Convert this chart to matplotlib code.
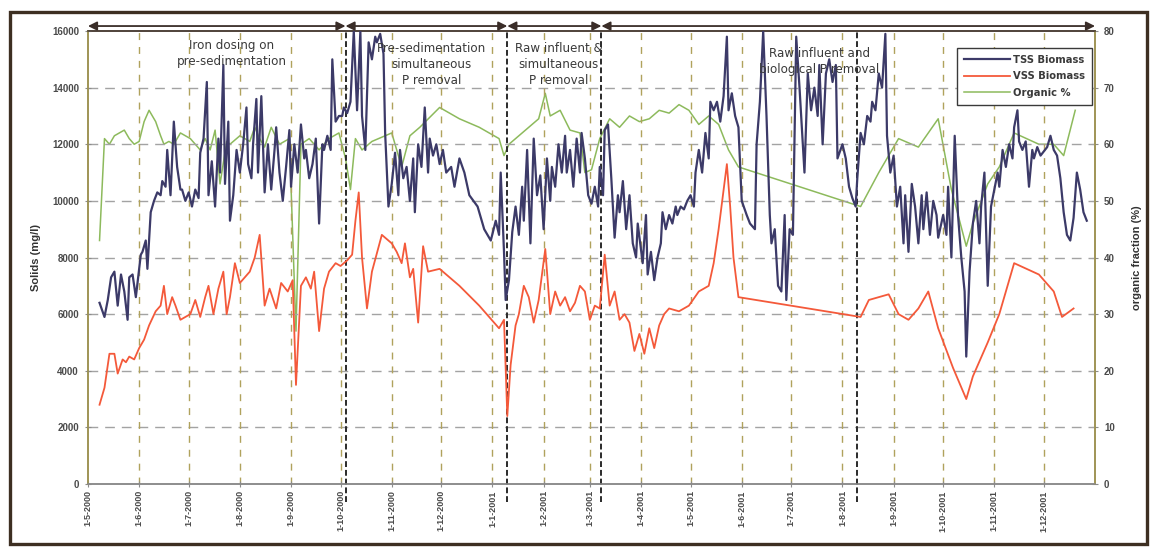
import matplotlib
matplotlib.use("Agg")
import matplotlib.pyplot as plt
import matplotlib.dates as mdates
import matplotlib.transforms as mtransforms
import pandas as pd
from matplotlib.patches import Rectangle

plt.rcParams['font.family'] = ['Liberation Sans', 'DejaVu Sans']

# ---- Total suspended solids of the biomass (mg/l) ----
tss_dates = [
    '2000-05-08', '2000-05-11', '2000-05-13', '2000-05-15', '2000-05-17', '2000-05-19', '2000-05-21', '2000-05-23', '2000-05-25', '2000-05-26', '2000-05-28', '2000-05-30',
    '2000-06-02', '2000-06-03', '2000-06-05', '2000-06-06', '2000-06-08', '2000-06-10', '2000-06-12', '2000-06-14', '2000-06-15', '2000-06-17', '2000-06-18', '2000-06-20', '2000-06-22', '2000-06-24', '2000-06-26', '2000-06-27', '2000-06-29',
    '2000-07-01', '2000-07-03', '2000-07-05', '2000-07-07', '2000-07-08', '2000-07-10', '2000-07-12', '2000-07-13', '2000-07-15', '2000-07-17', '2000-07-19', '2000-07-20', '2000-07-22', '2000-07-23', '2000-07-25', '2000-07-26', '2000-07-28', '2000-07-30',
    '2000-08-01', '2000-08-03', '2000-08-05', '2000-08-06', '2000-08-08', '2000-08-09', '2000-08-11', '2000-08-12', '2000-08-14', '2000-08-16', '2000-08-18', '2000-08-20', '2000-08-22', '2000-08-23', '2000-08-25', '2000-08-27', '2000-08-29', '2000-08-31',
    '2000-09-01', '2000-09-03', '2000-09-05', '2000-09-07', '2000-09-09', '2000-09-10', '2000-09-12', '2000-09-14', '2000-09-16', '2000-09-18', '2000-09-20', '2000-09-21', '2000-09-23', '2000-09-25', '2000-09-26', '2000-09-28', '2000-09-30',
    '2000-10-02', '2000-10-03', '2000-10-05', '2000-10-07', '2000-10-09', '2000-10-11', '2000-10-13', '2000-10-14', '2000-10-16', '2000-10-18', '2000-10-20', '2000-10-22', '2000-10-23', '2000-10-25', '2000-10-27', '2000-10-28', '2000-10-30',
    '2000-11-01', '2000-11-03', '2000-11-05', '2000-11-06', '2000-11-08', '2000-11-10', '2000-11-12', '2000-11-14', '2000-11-15', '2000-11-17', '2000-11-19', '2000-11-21', '2000-11-23', '2000-11-24', '2000-11-26', '2000-11-28', '2000-11-30',
    '2000-12-02', '2000-12-04', '2000-12-07', '2000-12-09', '2000-12-12', '2000-12-15', '2000-12-18', '2000-12-23', '2000-12-27', '2000-12-31',
    '2001-01-03', '2001-01-05', '2001-01-06', '2001-01-08', '2001-01-09', '2001-01-11', '2001-01-13', '2001-01-15', '2001-01-17', '2001-01-19', '2001-01-20', '2001-01-22', '2001-01-24', '2001-01-26', '2001-01-28', '2001-01-30',
    '2001-02-01', '2001-02-03', '2001-02-05', '2001-02-06', '2001-02-08', '2001-02-10', '2001-02-12', '2001-02-14', '2001-02-15', '2001-02-17', '2001-02-19', '2001-02-21', '2001-02-23', '2001-02-24', '2001-02-26', '2001-02-28',
    '2001-03-02', '2001-03-04', '2001-03-06', '2001-03-07', '2001-03-09', '2001-03-10', '2001-03-12', '2001-03-14', '2001-03-16', '2001-03-18', '2001-03-19', '2001-03-21', '2001-03-23', '2001-03-25', '2001-03-27', '2001-03-29', '2001-03-30',
    '2001-04-02', '2001-04-04', '2001-04-05', '2001-04-07', '2001-04-09', '2001-04-11', '2001-04-13', '2001-04-14', '2001-04-16', '2001-04-18', '2001-04-20', '2001-04-22', '2001-04-23', '2001-04-25', '2001-04-27', '2001-04-29',
    '2001-05-01', '2001-05-03', '2001-05-04', '2001-05-06', '2001-05-08', '2001-05-10', '2001-05-12', '2001-05-13', '2001-05-15', '2001-05-17', '2001-05-19', '2001-05-21', '2001-05-23', '2001-05-24', '2001-05-26', '2001-05-28', '2001-05-30',
    '2001-06-01', '2001-06-04', '2001-06-06', '2001-06-09', '2001-06-10', '2001-06-12', '2001-06-14', '2001-06-16', '2001-06-18', '2001-06-19', '2001-06-21', '2001-06-23', '2001-06-25', '2001-06-27', '2001-06-28', '2001-06-30',
    '2001-07-02', '2001-07-04', '2001-07-06', '2001-07-08', '2001-07-09', '2001-07-11', '2001-07-13', '2001-07-15', '2001-07-17', '2001-07-18', '2001-07-20', '2001-07-22', '2001-07-24', '2001-07-26', '2001-07-28', '2001-07-29',
    '2001-08-01', '2001-08-03', '2001-08-05', '2001-08-07', '2001-08-09', '2001-08-10', '2001-08-12', '2001-08-14', '2001-08-16', '2001-08-18', '2001-08-19', '2001-08-21', '2001-08-23', '2001-08-25', '2001-08-27', '2001-08-28', '2001-08-30',
    '2001-09-01', '2001-09-03', '2001-09-05', '2001-09-07', '2001-09-08', '2001-09-10', '2001-09-12', '2001-09-14', '2001-09-16', '2001-09-18', '2001-09-19', '2001-09-21', '2001-09-23', '2001-09-25', '2001-09-27', '2001-09-28',
    '2001-10-01', '2001-10-03', '2001-10-04', '2001-10-06', '2001-10-08', '2001-10-10', '2001-10-12', '2001-10-14', '2001-10-15', '2001-10-17', '2001-10-19', '2001-10-21', '2001-10-23', '2001-10-24', '2001-10-26', '2001-10-28', '2001-10-30',
    '2001-11-01', '2001-11-03', '2001-11-04', '2001-11-06', '2001-11-08', '2001-11-10', '2001-11-12', '2001-11-13', '2001-11-15', '2001-11-16', '2001-11-18', '2001-11-20', '2001-11-22', '2001-11-24', '2001-11-25', '2001-11-27', '2001-11-29',
    '2001-12-03', '2001-12-05', '2001-12-07', '2001-12-09', '2001-12-11', '2001-12-13', '2001-12-15', '2001-12-17', '2001-12-19', '2001-12-21', '2001-12-23', '2001-12-25', '2001-12-27',
]
tss_mgl = [
    6400, 5900, 6500, 7300, 7500, 6300, 7400, 6800, 5800, 7300, 7400, 6600,
    8100, 8200, 8600, 7600, 9600, 10000, 10300, 10200, 10700, 10500, 11800, 10200, 12800, 11200, 10400, 10400, 10000,
    10300, 9800, 10400, 10100, 11700, 12200, 14200, 10200, 11400, 9800, 12200, 11000, 14800, 10600, 12800, 9300, 10200, 11800,
    11000, 12000, 13300, 11300, 10800, 12000, 13600, 11000, 13700, 10300, 12000, 10400, 11800, 12600, 11000, 10000, 11200, 12500,
    10500, 12000, 11000, 12700, 11500, 11800, 10800, 11300, 12200, 9200, 12000, 11800, 12300, 11800, 15000, 12800, 13000,
    13000, 13300, 13100, 13500, 16000, 13200, 16000, 13000, 11800, 15600, 15000, 15800, 15600, 15900, 15200, 12400, 9800,
    10600, 11700, 10200, 11800, 10800, 11200, 10000, 11500, 9600, 12000, 11200, 13300, 11000, 12200, 11600, 12000, 11300,
    11800, 11000, 11200, 10500, 11500, 11000, 10200, 9800, 9000, 8600,
    9300, 8800, 11000, 8200, 6500, 7200, 8900, 9800, 8800, 10500, 9300, 11800, 8500, 12200, 10200, 10900,
    9000, 11500, 10000, 11200, 10500, 12000, 11000, 12300, 11000, 11800, 10500, 12200, 11000, 12400, 11500, 10200,
    9900, 10500, 9800, 11200, 10200, 12500, 12700, 10800, 8700, 10200, 9600, 10700, 9000, 10200, 8500, 8000, 9200,
    7800, 9500, 7400, 8200, 7200, 8000, 8500, 9600, 9000, 9500, 9200, 9800, 9500, 9800, 9700, 10000,
    10200, 9800, 11000, 11800, 11000, 12400, 11500, 13500, 13200, 13500, 12800, 13700, 15800, 13200, 13800, 13000, 12600,
    10000, 9500, 9200, 9000, 12000, 13500, 16000, 13000, 9500, 8500, 9000, 7000, 6800, 9500, 6500, 9000,
    8800, 15800, 14000, 12000, 11000, 14500, 13200, 14000, 13000, 14800, 12000, 14500, 15000, 14200, 14800, 11500,
    12000, 11500, 10500, 10100, 9800, 10800, 12400, 12000, 13000, 12800, 13500, 13200, 14500, 14000, 15900, 12300, 11000,
    11600, 9800, 10500, 8500, 10200, 8200, 10600, 9800, 8500, 10200, 9000, 10300, 8800, 10000, 9500, 8700,
    9500, 8800, 10500, 8000, 12300, 9500, 8000, 6800, 4500, 7500, 9200, 10000, 8500, 9800, 11000, 7000, 9800,
    10400, 11000, 10500, 11800, 11200, 12000, 11500, 12600, 13200, 12100, 11800, 12100, 10500, 11800, 11500, 11900, 11600,
    11900, 12300, 11800, 11600, 10800, 9600, 8800, 8600, 9400, 11000, 10400, 9600, 9300,
]

# ---- Volatile suspended solids of the biomass (mg/l) ----
vss_dates = [
    '2000-05-08', '2000-05-11', '2000-05-14', '2000-05-17', '2000-05-19', '2000-05-22', '2000-05-24', '2000-05-26', '2000-05-29',
    '2000-06-01', '2000-06-04', '2000-06-07', '2000-06-11', '2000-06-14', '2000-06-16', '2000-06-18', '2000-06-21', '2000-06-23', '2000-06-26', '2000-06-29',
    '2000-07-02', '2000-07-05', '2000-07-08', '2000-07-11', '2000-07-13', '2000-07-16', '2000-07-19', '2000-07-22', '2000-07-24', '2000-07-26', '2000-07-29',
    '2000-08-01', '2000-08-04', '2000-08-07', '2000-08-10', '2000-08-13', '2000-08-16', '2000-08-19', '2000-08-23', '2000-08-26', '2000-08-30',
    '2000-09-02', '2000-09-04', '2000-09-07', '2000-09-10', '2000-09-13', '2000-09-15', '2000-09-18', '2000-09-21', '2000-09-24', '2000-09-28',
    '2000-10-01', '2000-10-05', '2000-10-08', '2000-10-10', '2000-10-12', '2000-10-14', '2000-10-17', '2000-10-20', '2000-10-26',
    '2000-11-01', '2000-11-04', '2000-11-07', '2000-11-09', '2000-11-12', '2000-11-14', '2000-11-17', '2000-11-20', '2000-11-23', '2000-11-30',
    '2000-12-12', '2000-12-24',
    '2001-01-05', '2001-01-08', '2001-01-10', '2001-01-12', '2001-01-15', '2001-01-17', '2001-01-20', '2001-01-23', '2001-01-26', '2001-01-29',
    '2001-02-02', '2001-02-05', '2001-02-08', '2001-02-11', '2001-02-14', '2001-02-17', '2001-02-20', '2001-02-23', '2001-02-26',
    '2001-03-01', '2001-03-04', '2001-03-07', '2001-03-10', '2001-03-13', '2001-03-16', '2001-03-19', '2001-03-22', '2001-03-25', '2001-03-28', '2001-03-31',
    '2001-04-03', '2001-04-06', '2001-04-09', '2001-04-12', '2001-04-15', '2001-04-18', '2001-04-24', '2001-04-30',
    '2001-05-06', '2001-05-12', '2001-05-15', '2001-05-18', '2001-05-23', '2001-05-25', '2001-05-27', '2001-05-30',
    '2001-08-12', '2001-08-17', '2001-08-29',
    '2001-09-04', '2001-09-10', '2001-09-16', '2001-09-22', '2001-09-28',
    '2001-10-07', '2001-10-15', '2001-10-19', '2001-10-28',
    '2001-11-04', '2001-11-13', '2001-11-28',
    '2001-12-07', '2001-12-12', '2001-12-19',
]
vss_mgl = [
    2800, 3400, 4600, 4600, 3900, 4400, 4300, 4500, 4400,
    4800, 5100, 5600, 6100, 6300, 7000, 6000, 6600, 6300, 5800, 5900,
    6000, 6500, 5900, 6600, 7000, 6000, 6900, 7500, 6000, 6600, 7800,
    7100, 7300, 7500, 8000, 8800, 6300, 6900, 6200, 7100, 6800,
    7200, 3500, 7000, 7300, 6900, 7500, 5400, 6900, 7500, 7800,
    7700, 7900, 8100, 9300, 10300, 8000, 6200, 7500, 8800,
    8500, 8200, 7800, 8500, 7300, 7600, 5700, 8400, 7500, 7600,
    7000, 6300,
    5500, 5800, 2400, 4200, 5600, 6000, 7000, 6600, 5700, 6500,
    8300, 6000, 6800, 6300, 6600, 6100, 6400, 7000, 6800,
    5800, 6300, 6200, 8100, 6300, 6800, 5800, 6000, 5700, 4700, 5300,
    4600, 5500, 4800, 5600, 6000, 6200, 6100, 6300,
    6800, 7000, 7800, 9000, 11300, 9800, 8000, 6600,
    5900, 6500, 6700,
    6000, 5800, 6200, 6800, 5500,
    4100, 3000, 3800, 5000,
    6000, 7800, 7400,
    6800, 5900, 6200,
]

# ---- Organic fraction VSS/TSS (%) ----
org_dates = [
    '2000-05-08', '2000-05-11', '2000-05-14', '2000-05-17', '2000-05-20', '2000-05-23', '2000-05-26', '2000-05-29',
    '2000-06-01', '2000-06-04', '2000-06-07', '2000-06-11', '2000-06-14', '2000-06-16', '2000-06-19', '2000-06-22', '2000-06-26',
    '2000-07-02', '2000-07-08', '2000-07-11', '2000-07-14', '2000-07-17', '2000-07-20', '2000-07-24', '2000-07-26',
    '2000-08-01', '2000-08-07', '2000-08-10', '2000-08-13', '2000-08-16', '2000-08-20', '2000-08-25', '2000-08-31',
    '2000-09-04', '2000-09-07', '2000-09-12', '2000-09-18', '2000-09-24', '2000-09-30',
    '2000-10-04', '2000-10-07', '2000-10-10', '2000-10-14', '2000-10-20',
    '2000-11-01', '2000-11-07', '2000-11-12', '2000-11-18', '2000-11-30',
    '2000-12-12', '2000-12-24',
    '2001-01-05', '2001-01-08', '2001-01-11', '2001-01-17', '2001-01-23', '2001-01-29',
    '2001-02-02', '2001-02-05', '2001-02-11', '2001-02-17', '2001-02-23', '2001-02-26',
    '2001-03-02', '2001-03-07', '2001-03-13', '2001-03-19', '2001-03-25', '2001-03-31',
    '2001-04-06', '2001-04-12', '2001-04-18', '2001-04-24', '2001-04-30',
    '2001-05-06', '2001-05-12', '2001-05-18', '2001-05-24', '2001-05-30',
    '2001-08-12', '2001-08-23',
    '2001-09-04', '2001-09-16', '2001-09-28',
    '2001-10-06', '2001-10-15', '2001-10-19', '2001-10-28',
    '2001-11-04', '2001-11-13', '2001-11-28',
    '2001-12-07', '2001-12-13', '2001-12-20',
]
org_pct = [
    43, 61, 60, 61.5, 62, 62.5, 61, 60,
    60.5, 64, 66, 64, 61.5, 60, 60.5, 60, 62,
    61, 59, 61, 59, 62.5, 53, 60.5, 60,
    61.5, 60.5, 63, 61, 59.5, 63, 60, 61,
    27, 60, 61, 59, 61, 62,
    57.5, 52, 61, 59, 60.5,
    62, 56, 61.5, 63, 66.5,
    64.5, 63,
    61, 58, 60, 61.5, 63, 64.5,
    69, 65, 66, 62.5, 62, 55,
    55.5, 61, 64.5, 63, 65, 64,
    64.5, 66, 65.5, 67, 66,
    63.5, 65, 63.5, 59, 56,
    49, 55,
    61, 59.5, 64.5,
    52, 42, 46, 53,
    56, 62, 60,
    60, 58, 66,
]

# Operating periods of the plant
phase_bounds = ['2000-05-01', '2000-10-04', '2001-01-10', '2001-03-08', '2002-01-01']
phase_names = ['Iron dosing on\npre-sedimentation',
               'Pre-sedimentation\nsimultaneous\nP removal',
               'Raw influent &\nsimultaneous\nP removal',
               'Raw influent and\nbiological P removal']
separator_dates = ['2000-10-04', '2001-01-10', '2001-03-08', '2001-08-10']

TSS_C = '#3c3a68'
VSS_C = '#f4593a'
ORG_C = '#8dba5c'
TXT_C = '#4a4a4a'

to_num = lambda s: mdates.date2num(pd.Timestamp(s))

fig = plt.figure(figsize=(11.5, 5.52), dpi=100)
ax = fig.add_axes([0.0765, 0.1232, 0.8757, 0.8206])
ax2 = ax.twinx()

ax.set_xlim(to_num('2000-05-01'), to_num('2002-01-01'))
ax.set_ylim(0, 16000)
ax2.set_ylim(0, 80)

# grid: dashed horizontals for solids, dashed monthly verticals
for v in range(2000, 16000, 2000):
    ax.axhline(v, color='#a3a3a3', lw=1.0, ls=(0, (7, 5)), zorder=0.5)
months = pd.date_range('2000-05-01', '2001-12-01', freq='MS')
for m in months[1:]:
    ax.axvline(mdates.date2num(m), color='#b0a25c', lw=1.0, ls=(0, (5, 5)), zorder=0.5)

# period separators
for s in separator_dates:
    ax.axvline(to_num(s), ymin=-0.04, ymax=1.0, color='#2a2a2a', lw=1.4,
               ls=(0, (3, 1.5)), zorder=1, clip_on=False)

ln_tss, = ax.plot(pd.to_datetime(tss_dates), tss_mgl, color=TSS_C, lw=1.6, zorder=3)
ln_vss, = ax.plot(pd.to_datetime(vss_dates), vss_mgl, color=VSS_C, lw=1.3, zorder=2.5)
ln_org, = ax2.plot(pd.to_datetime(org_dates), org_pct, color=ORG_C, lw=1.1, zorder=2)
ax.set_zorder(ax2.get_zorder() + 1)
ax.patch.set_visible(False)

# period arrows along the top
trans = mtransforms.blended_transform_factory(ax.transData, ax.transAxes)
for a, b in zip(phase_bounds[:-1], phase_bounds[1:]):
    ax.annotate('', xy=(to_num(b), 1.011), xytext=(to_num(a), 1.011),
                xycoords=trans, textcoords=trans,
                arrowprops=dict(arrowstyle='<|-|>', color='#3a2d28', lw=1.3,
                                shrinkA=0, shrinkB=0, mutation_scale=13))
label_pos = [('2000-07-27', 0.951), ('2000-11-25', 0.927), ('2001-02-10', 0.927), ('2001-07-18', 0.933)]
for (d, yy), name in zip(label_pos, phase_names):
    ax.text(to_num(d), yy, name, transform=trans, ha='center', va='center',
            fontsize=8.6, family='DejaVu Sans', color='#3a3a3a', linespacing=1.3, zorder=4)

# axes styling
ax.set_xticks([mdates.date2num(m) for m in months])
ax.set_xticklabels([f'{m.day}-{m.month}-{m.year}' for m in months], rotation=90,
                   fontsize=6.5, color=TXT_C, fontweight='bold')
ax.set_yticks(range(0, 16001, 2000))
ax.set_yticklabels([str(v) for v in range(0, 16001, 2000)], fontsize=7,
                   color=TXT_C, fontweight='bold')
ax2.set_yticks(range(0, 81, 10))
ax2.set_yticklabels([str(v) for v in range(0, 81, 10)], fontsize=7,
                    color=TXT_C, fontweight='bold')
ax.tick_params(axis='x', direction='inout', length=5, color='#8c8c8c', pad=2)
ax.tick_params(axis='y', direction='inout', length=5, color='#8c8c8c', pad=4)
ax2.tick_params(axis='y', direction='inout', length=5, color='#8c8c8c', pad=4)

for a in (ax, ax2):
    a.spines['left'].set_color('#9c9150')
    a.spines['right'].set_color('#9c9150')
    a.spines['bottom'].set_color('#8a8a8a')
    a.spines['top'].set_color('#4a3d35')
    for sp in a.spines.values():
        sp.set_linewidth(1.1)

ax.set_ylabel('Solids (mg/l)', fontsize=8, fontweight='bold', color='#333333', labelpad=8)
ax2.set_ylabel('organic fraction (%)', fontsize=8, fontweight='bold', color='#333333', labelpad=12)

leg = ax.legend([ln_tss, ln_vss, ln_org], ['TSS Biomass', 'VSS Biomass', 'Organic %'],
                loc='upper right', bbox_to_anchor=(0.9985, 0.968),
                prop={'family': 'DejaVu Sans', 'weight': 'bold', 'size': 7.2},
                frameon=True, fancybox=False, edgecolor='#3a3a3a', framealpha=1,
                handlelength=4.6, labelspacing=0.65, borderpad=0.7, handletextpad=0.3,
                borderaxespad=0.2)
leg.get_frame().set_linewidth(1.0)
for t in leg.get_texts():
    t.set_color('#3a3a3a')

# outer frame of the figure
fig.patches.append(Rectangle((0.0087, 0.0145), 0.9887, 0.9635, transform=fig.transFigure,
                             fill=False, edgecolor='#3d2f22', lw=2.4))

fig.savefig('out.png', dpi=100)
